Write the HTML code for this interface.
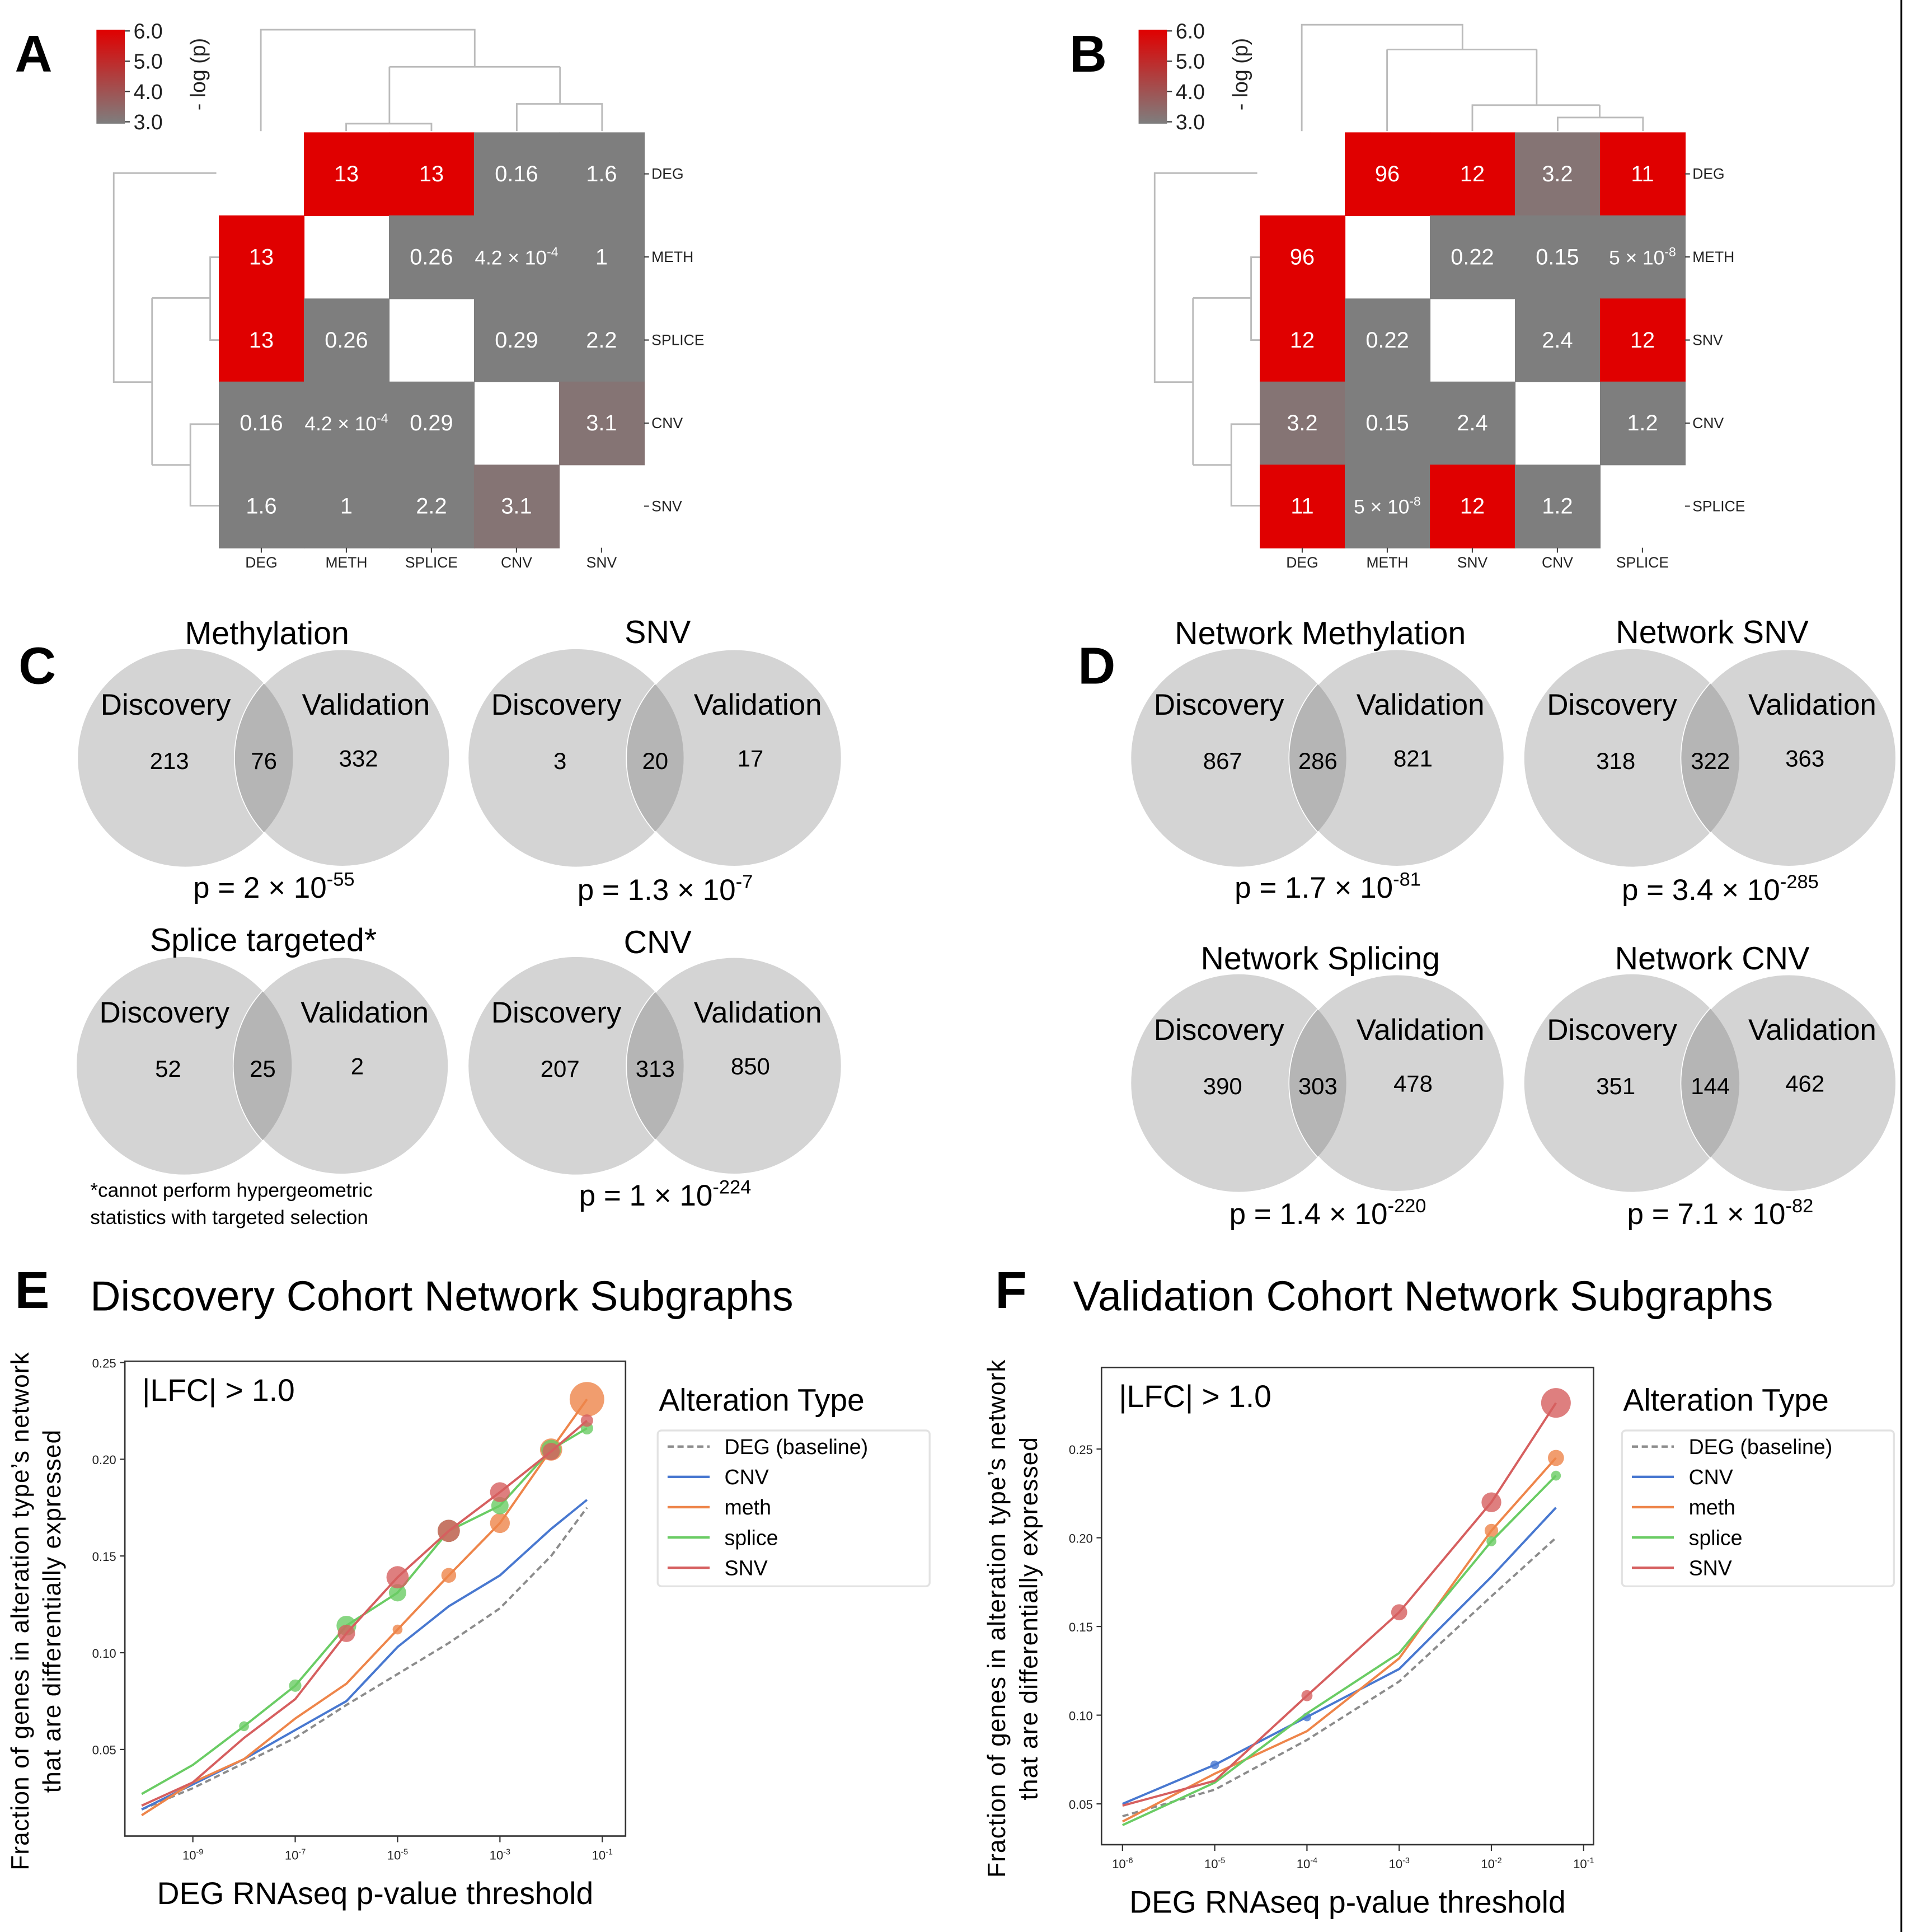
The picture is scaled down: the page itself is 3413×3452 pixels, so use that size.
<!DOCTYPE html>
<html><head><meta charset="utf-8"><style>
html,body{margin:0;padding:0;background:#fff}
svg{display:block}
text{font-family:"Liberation Sans",sans-serif}
</style></head><body>
<svg id="fig" xmlns="http://www.w3.org/2000/svg" width="3413" height="3452" viewBox="0 0 1545 1562.6">
<rect x="0" y="0" width="1545" height="1563" fill="#fff"/>
<line x1="1538" y1="0" x2="1538" y2="1563" stroke="#000" stroke-width="1.5"/>
<defs>
<linearGradient id="cb" x1="0" y1="0" x2="0" y2="1"><stop offset="0" stop-color="#e00000"/><stop offset="1" stop-color="#7e7e7e"/></linearGradient>
</defs>
<g id="root"></g>
</svg>
<script>
// ---------- heatmap data ----------
const hmALabels = ["DEG","METH","SPLICE","CNV","SNV"];
const hmAValues = [
 ["", "13", "13", "0.16", "1.6"],
 ["13", "", "0.26", "4.2e-4", "1"],
 ["13", "0.26", "", "0.29", "2.2"],
 ["0.16", "4.2e-4", "0.29", "", "3.1"],
 ["1.6", "1", "2.2", "3.1", ""]
];
const hmBLabels = ["DEG","METH","SNV","CNV","SPLICE"];
const hmBValues = [
 ["", "96", "12", "3.2", "11"],
 ["96", "", "0.22", "0.15", "5e-8"],
 ["12", "0.22", "", "2.4", "12"],
 ["3.2", "0.15", "2.4", "", "1.2"],
 ["11", "5e-8", "12", "1.2", ""]
];
// ---------- venn data ----------
const vennTitles = ["Methylation","SNV","Splice targeted*","CNV","Network Methylation","Network SNV","Network Splicing","Network CNV"];
const vennDisc = ["213","3","52","207","867","318","390","351"];
const vennOverlap = ["76","20","25","313","286","322","303","144"];
const vennVal = ["332","17","2","850","821","363","478","462"];
const vennPMant = ["2","1.3","","1","1.7","3.4","1.4","7.1"];
const vennPExp = ["-55","-7","","-224","-81","-285","-220","-82"];
// ---------- line chart data ----------
const seriesNames = ["DEG (baseline)","CNV","meth","splice","SNV"];
const eLogX = [-10,-9,-8,-7,-6,-5,-4,-3,-2,-1.3];
const eDEG = [0.019,0.030,0.043,0.056,0.073,0.089,0.105,0.123,0.150,0.175];
const eCNV = [0.019,0.032,0.045,0.060,0.075,0.103,0.124,0.140,0.164,0.179];
const eMeth = [0.016,0.033,0.045,0.066,0.084,0.112,0.140,0.167,0.205,0.231];
const eSplice = [0.027,0.042,0.062,0.083,0.114,0.131,0.163,0.176,0.205,0.216];
const eSNV = [0.021,0.033,0.056,0.076,0.110,0.139,0.163,0.183,0.204,0.220];
const eMethSize = [0,0,0,0,0,4,6,8,9,14];
const eSpliceSize = [0,0,4,5,8,7,9,7,8,5];
const eSNVSize = [0,0,0,0,7,9,9,8,7,5];
const eCNVSize = [0,0,0,0,0,0,0,0,0,0];
const eYTicks = [0.05,0.10,0.15,0.20,0.25];
const eXTicks = [-9,-7,-5,-3,-1];
const fLogX = [-6,-5,-4,-3,-2,-1.3];
const fDEG = [0.043,0.058,0.086,0.119,0.167,0.200];
const fCNV = [0.050,0.072,0.099,0.126,0.178,0.217];
const fMeth = [0.040,0.067,0.091,0.132,0.204,0.245];
const fSplice = [0.038,0.062,0.101,0.135,0.198,0.235];
const fSNV = [0.049,0.063,0.111,0.158,0.220,0.276];
const fCNVSize = [0,3.5,3.5,0,0,0];
const fMethSize = [0,0,0,0,5.5,6.5];
const fSpliceSize = [0,0,0,0,4,4];
const fSNVSize = [0,0,4.5,6.5,8,12];
const fYTicks = [0.05,0.10,0.15,0.20,0.25];
const fXTicks = [-6,-5,-4,-3,-2,-1];
const colors = ["#8c8c8c","#4878d0","#ee854a","#6acc64","#d65f5f"];

const NS="http://www.w3.org/2000/svg";
const root=document.getElementById('root');
function mk(tag,attrs,parent,txt){const e=document.createElementNS(NS,tag);for(const k in attrs)e.setAttribute(k,attrs[k]);if(txt!==undefined)e.textContent=txt;(parent||root).appendChild(e);return e;}
function sup(parent,x,y,base,exp,size,anchor,fill,fam){
  const t=mk('text',{x:x,y:y,'font-size':size,'text-anchor':anchor||'middle',fill:fill||'#000','font-family':fam||'"Liberation Sans",sans-serif'},parent);
  const a=document.createElementNS(NS,'tspan');a.textContent=base;t.appendChild(a);
  const b=document.createElementNS(NS,'tspan');b.setAttribute('dy',-size*0.4);b.setAttribute('font-size',size*0.65);b.textContent=exp;t.appendChild(b);
  return t;
}
// panel letters
[["A",12,58],["B",865,58],["C",15,553],["D",872,553],["E",12,1058],["F",805,1058]].forEach(p=>{
  const t=mk('text',{x:p[1],y:p[2],'font-size':42,'font-weight':'bold'},root,p[0]);
  
  
});

// ---------- heatmaps ----------
function heat(x0,labels,vals,tag){
  const g=mk('g',{});
  
  
  const cw=68.8,ch=67.2,y0=107;
  for(let r=0;r<5;r++)for(let c=0;c<5;c++){
    const v=vals[r][c];if(v==="")continue;
    let num=parseFloat(v);
    let fill="#7e7e7e";
    if(num>6)fill="#e00000";else if(num>3)fill="#857474";
    const cell=mk('rect',{x:x0+c*cw,y:y0+r*ch,width:cw+0.5,height:ch+0.5,fill:fill},g);
    
    
    const cx=x0+c*cw+cw/2,cy=y0+r*ch+ch/2+6;
    if(v.indexOf('e')>0){const p=v.split('e');sup(g,cx,cy,p[0]+" × 10",p[1],16,'middle','#fff');}
    else mk('text',{x:cx,y:cy,'font-size':18,fill:'#fff','text-anchor':'middle'},g,v);
  }
  labels.forEach((l,i)=>{
    mk('line',{x1:x0+5*cw,y1:y0+i*ch+ch/2,x2:x0+5*cw+4,y2:y0+i*ch+ch/2,stroke:'#444'},g);
    mk('text',{x:x0+5*cw+6,y:y0+i*ch+ch/2+4,'font-size':12,fill:'#222'},g,l);
    mk('line',{x1:x0+i*cw+cw/2,y1:y0+5*ch,x2:x0+i*cw+cw/2,y2:y0+5*ch+4,stroke:'#444'},g);
    mk('text',{x:x0+i*cw+cw/2,y:y0+5*ch+16,'font-size':12,fill:'#222','text-anchor':'middle'},g,l);
  });
}
heat(177,hmALabels,hmAValues,'a');
heat(1019,hmBLabels,hmBValues,'b');
// colorbars
[[78,'a'],[921,'b']].forEach(c=>{
  const g=mk('g',{});
  
  
  mk('rect',{x:c[0],y:24,width:23,height:76,fill:'url(#cb)'},g);
  ["6.0","5.0","4.0","3.0"].forEach((t,i)=>{const y=25+i*24.5;mk('line',{x1:c[0]+23,y1:y,x2:c[0]+27,y2:y,stroke:'#333'},g);mk('text',{x:c[0]+30,y:y+6,'font-size':17,fill:'#222'},g,t);});
  mk('text',{x:0,y:0,'font-size':17,fill:'#222','text-anchor':'middle',transform:`translate(${c[0]+88},60) rotate(-90)`},g,"- log (p)");
});
// dendrograms
function dend(segs,tag){
  const g=mk('g',{stroke:'#bbb','stroke-width':1.3,fill:'none'});
  
  
  segs.forEach(s=>mk('polyline',{points:s},g));
}
dend(["211,106 211,24 384,24 384,54","315,54 453,54","315,54 315,100","280,106 280,100 349,100 349,106","453,54 453,84","418,106 418,84 487,84 487,106"],'a-top');
dend(["175,140 92,140 92,309 123,309","123,241 123,376","123,241 170,241","177,208 170,208 170,275 177,275","123,376 154,376","177,343 154,343 154,409 177,409"],'a-left');
dend(["1053,106 1053,20 1183,20 1183,40","1122,40 1243,40","1122,40 1122,106","1243,40 1243,85","1191,106 1191,85 1294,85","1294,85 1294,95","1260,106 1260,95 1329,95 1329,106"],'b-top');
dend(["1017,140 934,140 934,309 965,309","965,241 965,376","965,241 1012,241","1019,208 1012,208 1012,275 1019,275","965,376 996,376","1019,343 996,343 996,409 1019,409"],'b-left');

// ---------- venns ----------
const vennPos=[[150,277,613,216,512,718],[466,594,613,532,511,720],[149,276,862,213,760,0],[466,594,862,532,762,967],[1002,1130,613,1068,512,718],[1320,1447,613,1385,511,720],[1002,1130,876,1068,775,982],[1320,1447,876,1385,775,982]];
const vfam='"Liberation Sans Narrow","Liberation Sans",sans-serif';
vennTitles.forEach((t,i)=>{
  const p=vennPos[i];const g=mk('g',{});
  
  
  const cid='vc'+i;
  const cp=mk('clipPath',{id:cid},g);mk('ellipse',{cx:p[0],cy:p[2],rx:87,ry:88},cp);
  mk('ellipse',{cx:p[0],cy:p[2],rx:87,ry:88,fill:'#d4d4d4'},g);
  mk('ellipse',{cx:p[1],cy:p[2],rx:87,ry:88,fill:'#d4d4d4',stroke:'#fff','stroke-width':1.5},g);
  mk('ellipse',{cx:p[1],cy:p[2],rx:87,ry:88,fill:'#b5b5b5','clip-path':`url(#${cid})`},g);
  mk('text',{x:p[3],y:p[4]+9,'font-size':26,'text-anchor':'middle','font-family':vfam},g,t);
  mk('text',{x:p[0]-16,y:p[2]-35,'font-size':24,'text-anchor':'middle','font-family':vfam},g,"Discovery");
  mk('text',{x:p[1]+19,y:p[2]-35,'font-size':24,'text-anchor':'middle','font-family':vfam},g,"Validation");
  mk('text',{x:p[0]-13,y:p[2]+9,'font-size':19,'text-anchor':'middle','font-family':vfam},g,vennDisc[i]);
  mk('text',{x:(p[0]+p[1])/2,y:p[2]+9,'font-size':19,'text-anchor':'middle','font-family':vfam},g,vennOverlap[i]);
  mk('text',{x:p[1]+13,y:p[2]+7,'font-size':19,'text-anchor':'middle','font-family':vfam},g,vennVal[i]);
  if(vennPMant[i]) sup(g,(p[0]+p[1])/2+8,p[5]+8,"p = "+vennPMant[i]+" × 10",vennPExp[i],24,'middle','#000',vfam);
});
mk('text',{x:73,y:968,'font-size':16,'font-family':vfam},root,"*cannot perform hypergeometric");
mk('text',{x:73,y:990,'font-size':16,'font-family':vfam},root,"statistics with targeted selection");

// ---------- line charts ----------
function chart(cfg){
  const g=mk('g',{});
  
  
  const X=lx=>cfg.x0+(lx-cfg.lx0)*cfg.dx;
  const Y=v=>cfg.y0-(v-cfg.v0)*cfg.dy;
  mk('text',{x:cfg.tx,y:cfg.ty,'font-size':34,'font-family':vfam},g,cfg.title);
  mk('rect',{x:cfg.L,y:cfg.T,width:cfg.R-cfg.L,height:cfg.B-cfg.T,fill:'#fff',stroke:'#333','stroke-width':1.2},g);
  cfg.yt.forEach(v=>{const y=Y(v);mk('line',{x1:cfg.L-4,y1:y,x2:cfg.L,y2:y,stroke:'#333'},g);mk('text',{x:cfg.L-7,y:y+4,'font-size':10,'text-anchor':'end',fill:'#222'},g,v.toFixed(2));});
  cfg.xt.forEach(l=>{const x=X(l);mk('line',{x1:x,y1:cfg.B,x2:x,y2:cfg.B+5,stroke:'#333'},g);sup(g,x,cfg.B+19,"10",String(l),10,'middle','#222');});
  mk('text',{x:(cfg.L+cfg.R)/2,y:cfg.B+55,'font-size':25,'text-anchor':'middle','font-family':vfam},g,"DEG RNAseq p-value threshold");
  const yc=(cfg.T+cfg.B)/2+10;
  mk('text',{x:0,y:0,'font-size':20,'text-anchor':'middle','letter-spacing':'0.5',transform:`translate(${cfg.L-78},${yc}) rotate(-90)`},g,"Fraction of genes in alteration type’s network");
  mk('text',{x:0,y:0,'font-size':20,'text-anchor':'middle','letter-spacing':'0.5',transform:`translate(${cfg.L-52},${yc}) rotate(-90)`},g,"that are differentially expressed");
  mk('text',{x:cfg.L+14,y:cfg.T+32,'font-size':25,'font-family':vfam},g,"|LFC| > 1.0");
  cfg.series.forEach((s,si)=>{
    const pts=cfg.lx.map((l,i)=>X(l).toFixed(1)+','+Y(s[i]).toFixed(1)).join(' ');
    const pl=mk('polyline',{points:pts,fill:'none',stroke:colors[si],'stroke-width':1.8},g);
    if(si===0)pl.setAttribute('stroke-dasharray','5,3');
    
    
    const sz=cfg.sizes[si];
    if(sz)cfg.lx.forEach((l,i)=>{if(sz[i]>0){const c=mk('circle',{cx:X(l),cy:Y(s[i]),r:sz[i],fill:colors[si],'fill-opacity':0.8},g);
      
      }});
  });
  // legend
  const lg=mk('g',{},g);
  
  
  mk('text',{x:cfg.lgx+1,y:1141,'font-size':25,'font-family':vfam},lg,"Alteration Type");
  mk('rect',{x:cfg.lgx,y:1157,width:220,height:126,rx:3,fill:'#fff',stroke:'#e2e2e2','stroke-width':1.5},lg);
  seriesNames.forEach((n,i)=>{const y=1170+i*24.5;
    const ln=mk('line',{x1:cfg.lgx+8,y1:y,x2:cfg.lgx+42,y2:y,stroke:colors[i],'stroke-width':2},lg);
    if(i===0)ln.setAttribute('stroke-dasharray','5,3');
    mk('text',{x:cfg.lgx+54,y:y+6,'font-size':17,'font-family':vfam},lg,n);});
}
chart({tag:'chart-discovery',title:"Discovery Cohort Network Subgraphs",tx:73,ty:1060,L:101,R:506,T:1101,B:1485,
  x0:156,lx0:-9,dx:41.4,y0:1415,v0:0.05,dy:1565,lx:eLogX,series:[eDEG,eCNV,eMeth,eSplice,eSNV],
  sizes:[null,eCNVSize,eMethSize,eSpliceSize,eSNVSize],yt:eYTicks,xt:eXTicks,lgx:532});
chart({tag:'chart-validation',title:"Validation Cohort Network Subgraphs",tx:868,ty:1060,L:891,R:1289,T:1106,B:1492,
  x0:908,lx0:-6,dx:74.6,y0:1459,v0:0.05,dy:1435,lx:fLogX,series:[fDEG,fCNV,fMeth,fSplice,fSNV],
  sizes:[null,fCNVSize,fMethSize,fSpliceSize,fSNVSize],yt:fYTicks,xt:fXTicks,lgx:1312});
</script>
</body></html>
